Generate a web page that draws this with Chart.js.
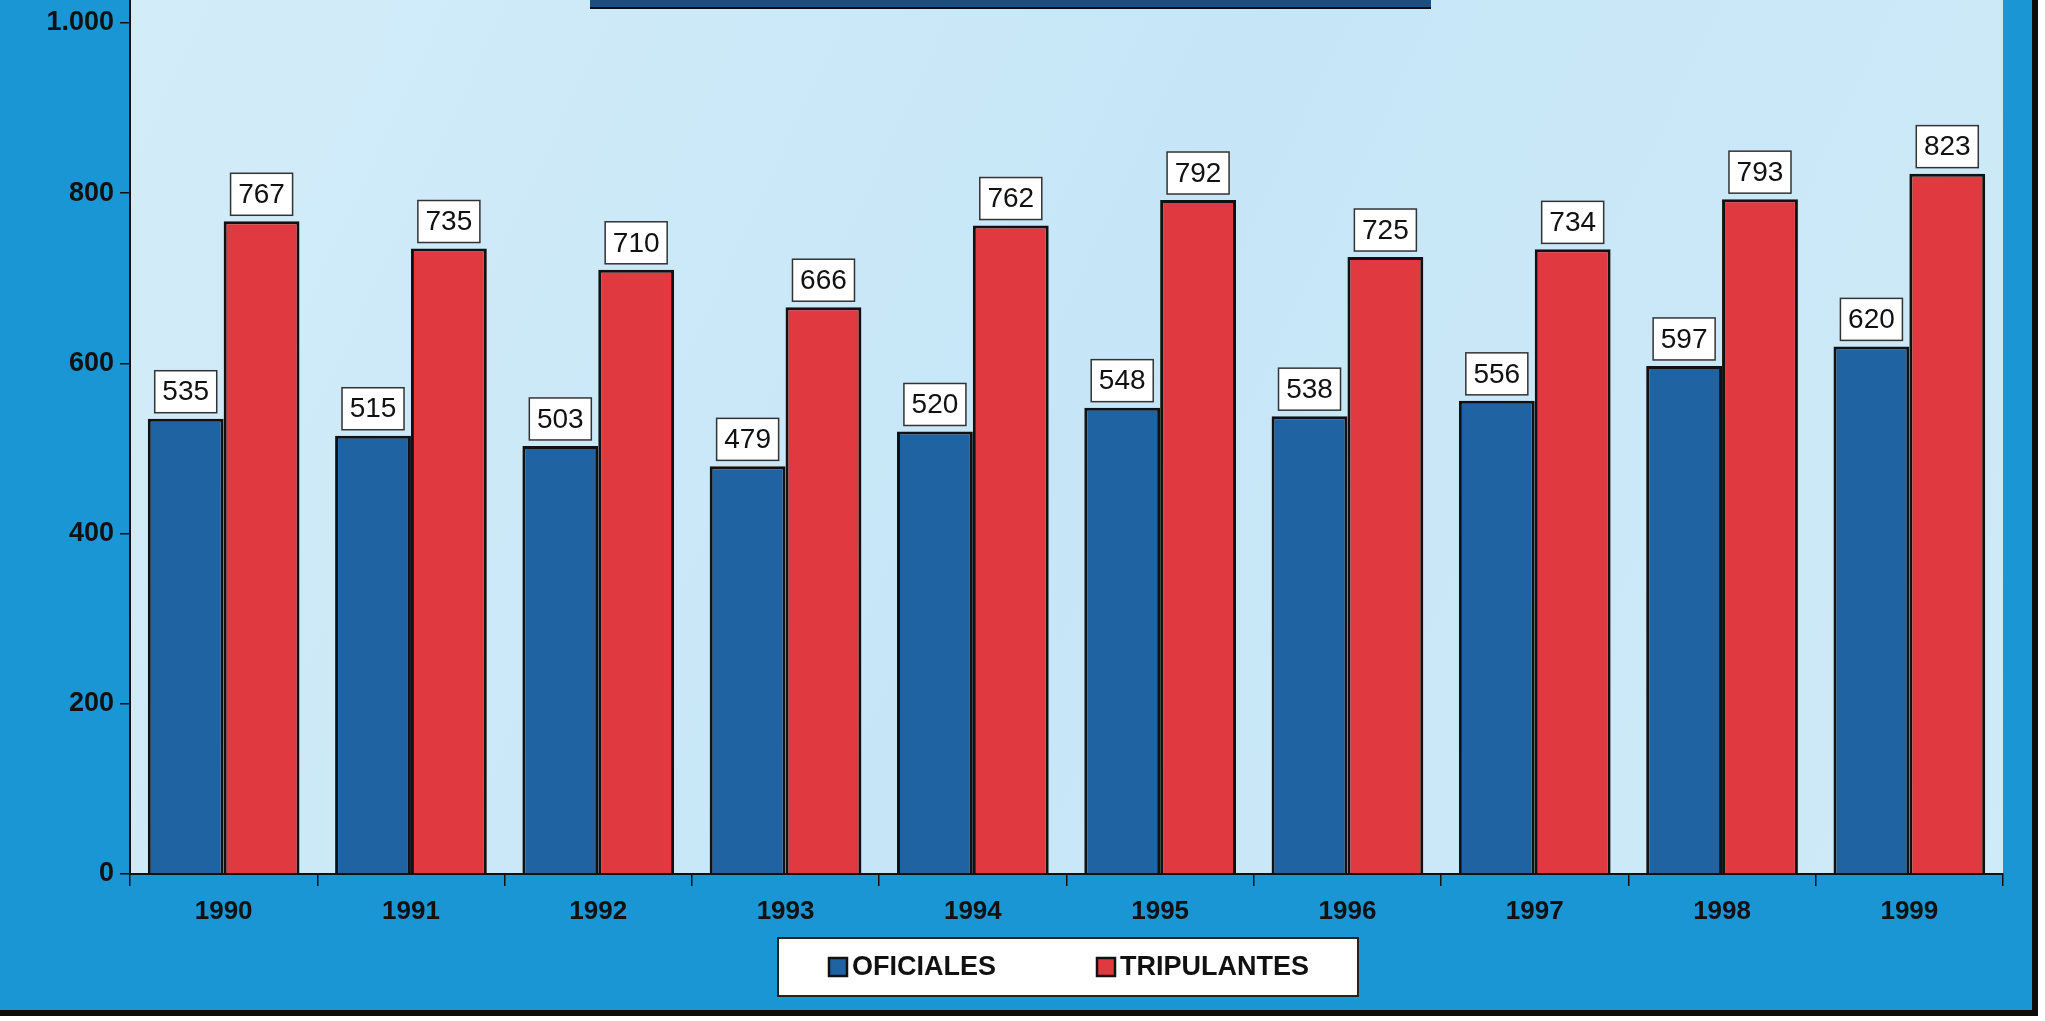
<!DOCTYPE html>
<html>
<head>
<meta charset="utf-8">
<script src="https://cdn.jsdelivr.net/npm/chart.js@4"></script>
<style>
  html, body { margin: 0; padding: 0; background: #fff; }
  #wrap { width: 2045px; height: 1021px; position: relative; }
</style>
</head>
<body>
<div id="wrap"><canvas id="chart" width="2045" height="1021"></canvas></div>
<script>
const years       = ['1990','1991','1992','1993','1994','1995','1996','1997','1998','1999'];
const oficiales   = [535, 515, 503, 479, 520, 548, 538, 556, 597, 620];
const tripulantes = [767, 735, 710, 666, 762, 792, 725, 734, 793, 823];
const yTickValues = [0, 200, 400, 600, 800, 1000];
const seriesNames = ['OFICIALES', 'TRIPULANTES'];

const FONT = "'Liberation Sans', Arial, sans-serif";
const fmt = v => String(v).replace(/\B(?=(\d{3})+(?!\d))/g, '.');

// fondo: marco azul, area clara, barra de titulo
const backdrop = {
  id: 'backdrop',
  beforeDraw(chart) {
    const { ctx, chartArea: a } = chart;
    ctx.save();
    ctx.fillStyle = '#ffffff';
    ctx.fillRect(0, 0, 2045, 1021);
    ctx.fillStyle = '#1996d3';
    ctx.fillRect(0, 0, 2036, 1013);
    ctx.fillStyle = '#0c0c0c';
    ctx.fillRect(2032, 0, 6, 1016);
    ctx.fillRect(0, 1010, 2038, 6);
    const g = ctx.createLinearGradient(a.left, 0, a.right, a.bottom);
    g.addColorStop(0, '#d3ecf9');
    g.addColorStop(0.5, '#c6e6f7');
    g.addColorStop(1, '#cfeaf8');
    ctx.fillStyle = g;
    ctx.fillRect(a.left, 0, a.right - a.left, a.bottom);
    ctx.fillStyle = '#1b4f82';
    ctx.fillRect(590, 0, 841, 8);
    ctx.fillStyle = '#0c0c0c';
    ctx.fillRect(590, 7, 841, 2);
    ctx.restore();
  },
  afterDraw(chart) {
    const { ctx, chartArea: a } = chart;
    ctx.save();
    ctx.strokeStyle = '#111';
    ctx.lineWidth = 2;
    ctx.beginPath();
    ctx.moveTo(a.left, 0);
    ctx.lineTo(a.left, a.bottom);
    ctx.stroke();
    ctx.restore();
  }
};

// etiquetas de valor en cajas blancas
const valueBoxes = {
  id: 'valueBoxes',
  afterDatasetsDraw(chart) {
    const { ctx } = chart;
    ctx.save();
    ctx.font = '28px ' + FONT;
    ctx.textAlign = 'center';
    ctx.textBaseline = 'middle';
    chart.data.datasets.forEach((ds, i) => {
      chart.getDatasetMeta(i).data.forEach((bar, j) => {
        const w = 62, h = 42;
        const x = bar.x - w / 2, y = bar.y - 6 - h;
        ctx.fillStyle = '#ffffff';
        ctx.fillRect(x, y, w, h);
        ctx.strokeStyle = '#333';
        ctx.lineWidth = 1.5;
        ctx.strokeRect(x, y, w, h);
        ctx.fillStyle = '#111';
        ctx.fillText(ds.data[j], bar.x, y + h / 2 + 1);
      });
    });
    ctx.restore();
  }
};

// leyenda en caja blanca
const boxLegend = {
  id: 'boxLegend',
  afterDraw(chart) {
    const { ctx } = chart;
    const bx = 778, by = 938, bw = 580, bh = 58;
    const itemX = [829, 1097];
    ctx.save();
    ctx.fillStyle = '#ffffff';
    ctx.fillRect(bx, by, bw, bh);
    ctx.strokeStyle = '#222';
    ctx.lineWidth = 2;
    ctx.strokeRect(bx, by, bw, bh);
    ctx.font = 'bold 27px ' + FONT;
    ctx.textBaseline = 'middle';
    chart.data.datasets.forEach((ds, i) => {
      const x = itemX[i], cy = by + bh / 2;
      ctx.fillStyle = ds.backgroundColor;
      ctx.fillRect(x, cy - 9, 18, 18);
      ctx.strokeStyle = '#111';
      ctx.lineWidth = 2.5;
      ctx.strokeRect(x, cy - 9, 18, 18);
      ctx.fillStyle = '#111';
      ctx.fillText(ds.label, x + 23, cy + 1);
    });
    ctx.restore();
  }
};

new Chart(document.getElementById('chart'), {
  type: 'bar',
  data: {
    labels: years,
    datasets: [
      { label: seriesNames[0], data: oficiales,   backgroundColor: '#1f63a3', borderColor: '#111', borderWidth: 3 },
      { label: seriesNames[1], data: tripulantes, backgroundColor: '#e03a40', borderColor: '#111', borderWidth: 3 }
    ]
  },
  options: {
    responsive: false,
    animation: false,
    devicePixelRatio: 1,
    categoryPercentage: 0.81,
    barPercentage: 1.0,
    layout: { padding: { top: 23, right: 42, left: 0, bottom: 0 } },
    plugins: { legend: { display: false }, tooltip: { enabled: false } },
    scales: {
      x: {
        grid: { offset: true, drawOnChartArea: false, tickLength: 12, color: '#111', lineWidth: 1.5 },
        border: { display: true, color: '#111', width: 2 },
        ticks: { color: '#111', font: { family: FONT, size: 26, weight: 'bold' }, padding: 10 },
        afterFit: s => { s.height = 147; }
      },
      y: {
        min: 0, max: 1000,
        afterBuildTicks: s => { s.ticks = yTickValues.map(v => ({ value: v })); },
        grid: { drawOnChartArea: false, tickLength: 10, color: '#111', lineWidth: 1.5 },
        border: { display: true, color: '#111', width: 2 },
        ticks: { color: '#111', font: { family: FONT, size: 27, weight: 'bold' }, padding: 6, callback: v => fmt(v) },
        afterFit: s => { s.width = 130; }
      }
    }
  },
  plugins: [backdrop, valueBoxes, boxLegend]
});
</script>
</body>
</html>
